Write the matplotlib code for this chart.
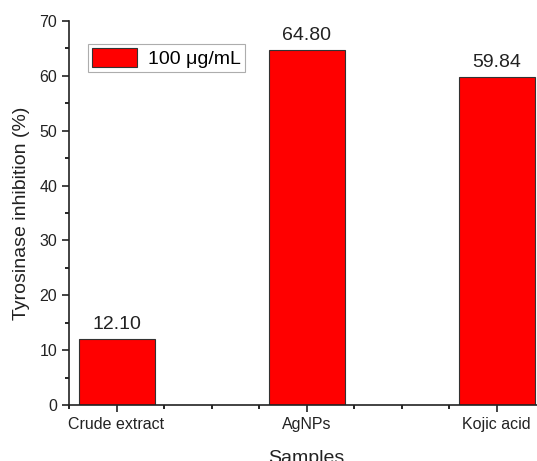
import matplotlib.pyplot as plt
from matplotlib.ticker import MultipleLocator

plt.rcParams['font.family'] = ['Liberation Sans', 'DejaVu Sans']

samples = ["Crude extract", "AgNPs", "Kojic acid"]
inhibition = [12.10, 64.80, 59.84]
value_labels = ["12.10", "64.80", "59.84"]

fig = plt.figure(figsize=(5.37, 4.61), dpi=100)
ax = fig.add_axes([69 / 537, 56 / 461, 475 / 537, 384 / 461])

x = range(len(samples))
bars = ax.bar(x, inhibition, width=0.4, color="#ff0000", edgecolor="#333333",
              linewidth=0.8, label="100 \u03bcg/mL")

for b, txt in zip(bars, value_labels):
    ax.text(b.get_x() + b.get_width() / 2, b.get_height() + 1.0, txt,
            ha="center", va="bottom", fontsize=14, color="#222222")

ax.set_xlim(-0.25, 2.25)
ax.set_ylim(0, 70)
ax.set_xticks(list(x))
ax.set_xticklabels(samples)
ax.xaxis.set_minor_locator(MultipleLocator(0.25))
ax.yaxis.set_major_locator(MultipleLocator(10))
ax.yaxis.set_minor_locator(MultipleLocator(5))

ax.tick_params(which="major", direction="out", length=5, width=1.2,
               labelsize=11.5, colors="#222222")
ax.tick_params(which="minor", direction="out", length=3, width=1.2)

for side in ("top", "right"):
    ax.spines[side].set_visible(False)
for side in ("left", "bottom"):
    ax.spines[side].set_linewidth(1.2)
    ax.spines[side].set_color("#222222")

ax.set_ylabel("Tyrosinase inhibition (%)", fontsize=14, color="#222222", labelpad=7)
ax.set_xlabel("Samples", fontsize=14, color="#222222", labelpad=13)

leg = ax.legend(loc="upper left", bbox_to_anchor=(0.04, 0.94), fontsize=14,
                frameon=True, fancybox=False, handlelength=2.3, handleheight=1.1,
                borderpad=0.2, handletextpad=0.6, borderaxespad=0)
leg.get_frame().set_edgecolor("#999999")
leg.get_frame().set_linewidth(0.8)

fig.savefig("out.png", dpi=100)
